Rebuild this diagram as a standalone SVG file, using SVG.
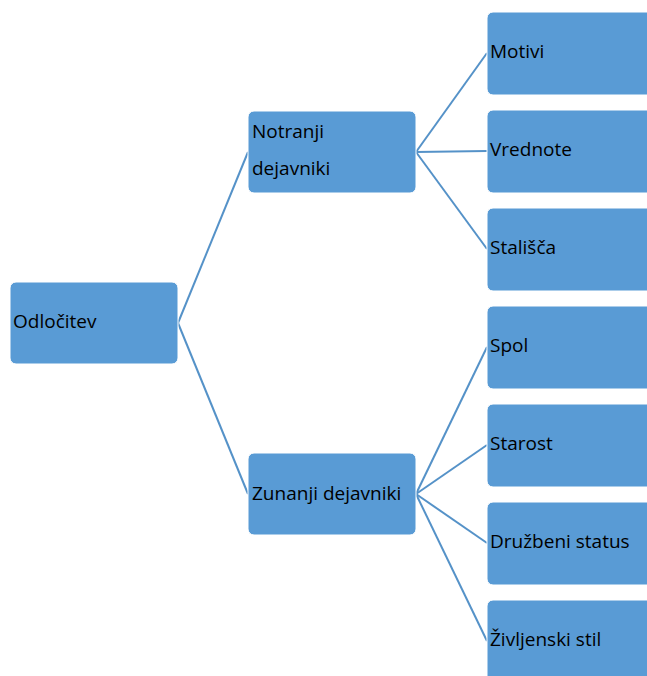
<svg xmlns="http://www.w3.org/2000/svg" width="647" height="676" viewBox="0 0 647 676">
<style>
.box{fill:#599bd5;stroke:#ffffff;stroke-width:1}
.t{font-family:"Open Sans","Liberation Sans",sans-serif;font-size:19px;fill:#000}
.c{stroke:#5592c8;stroke-width:2;fill:none}
</style>
<rect width="647" height="676" fill="#ffffff"/>
<g id="connectors">
<line class="c" x1="178" y1="323" x2="248" y2="152"/>
<line class="c" x1="178" y1="323" x2="248" y2="494"/>
<line class="c" x1="416" y1="152" x2="487" y2="53"/>
<line class="c" x1="416" y1="152" x2="487" y2="151"/>
<line class="c" x1="416" y1="152" x2="487" y2="249"/>
<line class="c" x1="416" y1="494" x2="487" y2="347"/>
<line class="c" x1="416" y1="494" x2="487" y2="445"/>
<line class="c" x1="416" y1="494" x2="487" y2="543"/>
<line class="c" x1="416" y1="494" x2="487" y2="641"/>
</g>
<g id="odlocitev"><rect class="box" x="10" y="282" width="168" height="82" rx="6"/><text class="t" x="13" y="328">Odločitev</text></g>
<g id="notranji"><rect class="box" x="248" y="111" width="168" height="82" rx="6"/><text class="t" x="252" y="138">Notranji</text><text class="t" x="252" y="175">dejavniki</text></g>
<g id="zunanji"><rect class="box" x="248" y="453" width="168" height="82" rx="6"/><text class="t" x="252" y="500">Zunanji dejavniki</text></g>
<g id="motivi"><rect class="box" x="487" y="12" width="168" height="83" rx="6"/><text class="t" x="490" y="58">Motivi</text></g>
<g id="vrednote"><rect class="box" x="487" y="110" width="168" height="83" rx="6"/><text class="t" x="490" y="156">Vrednote</text></g>
<g id="stalisca"><rect class="box" x="487" y="208" width="168" height="83" rx="6"/><text class="t" x="490" y="254">Stališča</text></g>
<g id="spol"><rect class="box" x="487" y="306" width="168" height="83" rx="6"/><text class="t" x="490" y="352">Spol</text></g>
<g id="starost"><rect class="box" x="487" y="404" width="168" height="83" rx="6"/><text class="t" x="490" y="450">Starost</text></g>
<g id="druzbeni"><rect class="box" x="487" y="502" width="168" height="83" rx="6"/><text class="t" x="490" y="548">Družbeni status</text></g>
<g id="zivljenski"><rect class="box" x="487" y="600" width="168" height="83" rx="6"/><text class="t" x="490" y="646">Življenski stil</text></g>
</svg>
